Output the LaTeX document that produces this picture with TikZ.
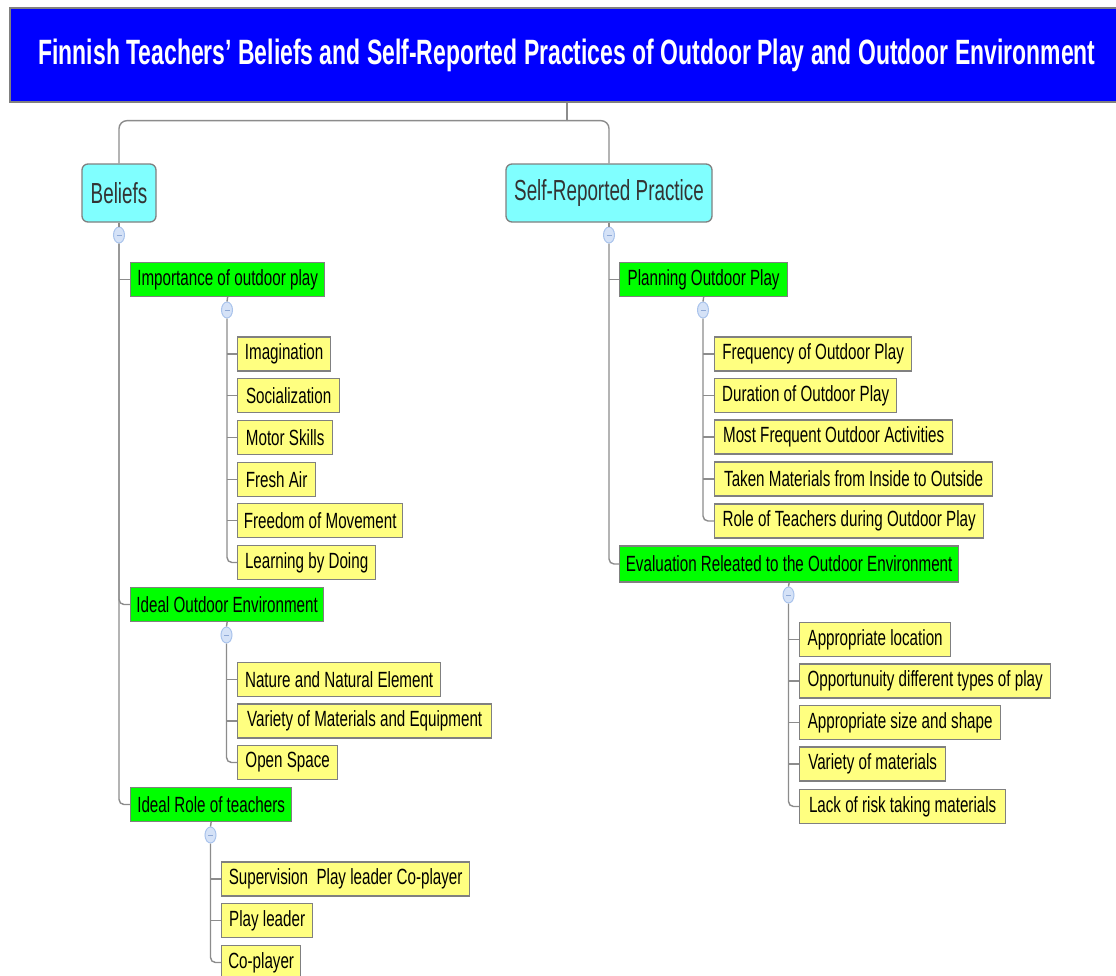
\documentclass[tikz,border=0pt]{standalone}
\usepackage{fontspec}
\setmainfont{Liberation Sans}
\newfontfamily\cf{Liberation Sans}[FakeStretch=0.69]
\newfontfamily\cfc{Liberation Sans}[FakeStretch=0.65]
\usetikzlibrary{shapes.geometric}
\definecolor{linegray}{HTML}{8C8C8C}
\definecolor{boxgray}{HTML}{808080}
\definecolor{yelfill}{HTML}{FFFF80}
\definecolor{grnfill}{HTML}{00FF00}
\definecolor{cyanfill}{HTML}{80FFFF}
\definecolor{titleblue}{HTML}{0000FF}
\definecolor{tglfill}{HTML}{D5E2F7}
\definecolor{tglline}{HTML}{A9C3EC}
\definecolor{tglminus}{HTML}{8FA9D6}
\definecolor{cyantext}{HTML}{333333}
\begin{document}
\begin{tikzpicture}[x=1pt,y=-1pt,
  conn/.style={draw=linegray, line width=1.4pt},
  box/.style={draw=boxgray, line width=1.3pt, anchor=west, minimum height=34pt,
    inner sep=0pt, text=black, font=\cf\fontsize{22}{26}\selectfont},
  ybox/.style={box, fill=yelfill, minimum width=#1},
  gbox/.style={box, fill=grnfill, minimum width=#1},
  cbox/.style={draw=boxgray, line width=1.3pt, fill=cyanfill, rounded corners=6pt,
    minimum height=58pt, minimum width=#1, inner sep=0pt, text=cyantext,
    font=\cfc\fontsize{29}{32}\selectfont},
  tgl/.style={ellipse, draw=tglline, fill=tglfill, line width=1pt, inner sep=0pt,
    minimum width=11pt, minimum height=16pt,
    path picture={\draw[tglminus, line width=1pt]
      ([xshift=-2.5pt]path picture bounding box.center) --
      ([xshift=2.5pt]path picture bounding box.center);}}
]
\useasboundingbox (0,0) rectangle (1116,975);
\fill[white] (0,0) rectangle (1116,975);
\clip (0,0) rectangle (1116,975);

% title
\node[draw=boxgray, line width=1.3pt, fill=titleblue, minimum width=1114pt,
  minimum height=94pt, inner sep=0pt, text=white] (title) at (567,55)
  {\resizebox{1057pt}{25.5pt}{\bfseries Finnish Teachers’ Beliefs and Self-Reported Practices of Outdoor Play and Outdoor Environment}};

% main branches
\node[cbox=74pt] (bel) at (119,193) {Beliefs};
\node[cbox=206pt] (srp) at (609,193) {Self-Reported Practice};
\node[tgl] (tbel) at (119,235) {};
\node[tgl] (tsrp) at (609,235) {};

% Beliefs children
\node[gbox=194pt] (imp) at (130,279.5) {Importance of outdoor play};
\node[gbox=193pt] (ioe) at (130,604.5) {Ideal Outdoor Environment};
\node[gbox=161pt] (irt) at (130,804.5) {Ideal Role of teachers};
\node[tgl] (timp) at (227,310) {};
\node[tgl] (tioe) at (226.5,635) {};
\node[tgl] (tirt) at (210.5,835) {};

\node[ybox=93pt]  (i1) at (237,354)   {Imagination};
\node[ybox=102pt] (i2) at (237,395.5) {Socialization};
\node[ybox=95pt]  (i3) at (237,437.5) {Motor Skills};
\node[ybox=78pt]  (i4) at (237,479.5) {Fresh Air};
\node[ybox=165pt] (i5) at (237,520.5) {Freedom of Movement};
\node[ybox=138pt] (i6) at (237,562.5) {Learning by Doing};

\node[ybox=203pt] (e1) at (237,679.5) {Nature and Natural Element};
\node[ybox=254pt] (e2) at (237,721)   {Variety of Materials and Equipment};
\node[ybox=100pt] (e3) at (237,762.5) {Open Space};

\node[ybox=248pt] (r1) at (221,879)   {Supervision\ \ Play leader Co-player};
\node[ybox=91pt]  (r2) at (221,920.5) {Play leader};
\node[ybox=79pt]  (r3) at (221,962.5) {Co-player};

% Self-reported children
\node[gbox=168pt] (pop) at (619,279.5) {Planning Outdoor Play};
\node[gbox=339pt, minimum height=36pt] (ero) at (619,564) {Evaluation Releated to the Outdoor Environment};
\node[tgl] (tpop) at (703,310) {};
\node[tgl] (tero) at (788.5,595) {};

\node[ybox=197pt] (p1) at (714,354)   {Frequency of Outdoor Play};
\node[ybox=182pt] (p2) at (714,395.5) {Duration of Outdoor Play};
\node[ybox=238pt] (p3) at (714,437)   {Most Frequent Outdoor Activities};
\node[ybox=278pt] (p4) at (714,479)   {Taken Materials from Inside to Outside};
\node[ybox=269pt] (p5) at (714,521)   {Role of Teachers during Outdoor Play};

\node[ybox=151pt] (v1) at (799,639.5) {Appropriate location};
\node[ybox=251pt] (v2) at (799,681)   {Opportunuity different types of play};
\node[ybox=201pt] (v3) at (799,722.5) {Appropriate size and shape};
\node[ybox=146pt] (v4) at (799,764)   {Variety of materials};
\node[ybox=206pt] (v5) at (799,806.5) {Lack of risk taking materials};

% connectors: title to branches
\coordinate (tj) at ([yshift=18pt]title.south);
\path (title.south) ++(0,18) coordinate (tj);
\draw[conn] (title.south) -- (tj);
\draw[conn, rounded corners=8pt] (tj) -| (bel.north);
\draw[conn, rounded corners=8pt] (tj) -| (srp.north);

% parent to toggle
\foreach \p/\t in {bel/tbel, srp/tsrp, imp/timp, ioe/tioe, irt/tirt, pop/tpop, ero/tero}
  \draw[conn] (\p.south) -- (\t.north);

% Beliefs trunk
\draw[conn, rounded corners=5pt] (tbel.south) |- (irt.west);
\draw[conn, rounded corners=5pt] (tbel.south) |- (ioe.west);
\draw[conn] (tbel.south |- imp.west) -- (imp.west);

% Importance trunk
\draw[conn, rounded corners=5pt] (timp.south) |- (i6.west);
\foreach \c in {i1,i2,i3,i4,i5}
  \draw[conn] (timp.south |- \c.west) -- (\c.west);

% Ideal outdoor trunk
\draw[conn, rounded corners=5pt] (tioe.south) |- (e3.west);
\foreach \c in {e1,e2}
  \draw[conn] (tioe.south |- \c.west) -- (\c.west);

% Ideal role trunk
\draw[conn, rounded corners=5pt] (tirt.south) |- (r3.west);
\foreach \c in {r1,r2}
  \draw[conn] (tirt.south |- \c.west) -- (\c.west);

% Self-reported trunk
\draw[conn, rounded corners=5pt] (tsrp.south) |- (ero.west);
\draw[conn] (tsrp.south |- pop.west) -- (pop.west);

% Planning trunk
\draw[conn, rounded corners=5pt] (tpop.south) |- (p5.west);
\foreach \c in {p1,p2,p3,p4}
  \draw[conn] (tpop.south |- \c.west) -- (\c.west);

% Evaluation trunk
\draw[conn, rounded corners=5pt] (tero.south) |- (v5.west);
\foreach \c in {v1,v2,v3,v4}
  \draw[conn] (tero.south |- \c.west) -- (\c.west);
\end{tikzpicture}
\end{document}
